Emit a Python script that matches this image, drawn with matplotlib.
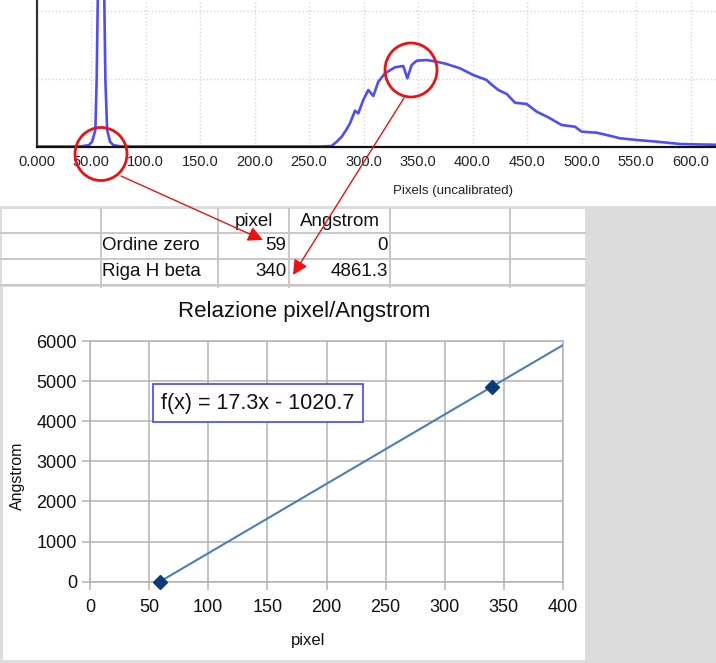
import numpy as np
import matplotlib
matplotlib.use("Agg")
import matplotlib.pyplot as plt
from matplotlib.patches import Rectangle, Ellipse

plt.rcParams['font.family'] = ['Liberation Sans', 'DejaVu Sans']

W, H = 716, 663

# spectrum (pixel position, intensity)
spec_px = [0, 40, 48, 51, 54, 55.2, 56.2, 59.2, 62.2, 63.2, 64.8, 67.5, 70.5, 78,
           260, 270.8, 275.4, 280.0, 284.0, 287.6, 292.2, 295.2, 299.8, 304.4, 309.0, 313.6,
           319.7, 328.9, 336.5, 340.2, 344.2, 348.8, 358.0, 367.2, 376.3, 388.5,
           400.7, 413.0, 416.1, 423.7, 431.4, 439.0, 449.7, 458.9, 469.5, 481.8,
           494.0, 500.2, 513.9, 523.1, 535.3, 550.6, 569.0, 590.4, 602.3, 623.4, 650]
spec_int = [0, 0, 20, 70, 243, 978, 2154, 6500, 2154, 978, 243, 70, 20, 0,
            0, 7, 71, 144, 240, 341, 526, 488, 684, 831, 743, 953,
            1076, 1165, 1184, 1003, 1199, 1262, 1272, 1247, 1213, 1150,
            1051, 978, 929, 831, 772, 644, 625, 512, 429, 316,
            291, 218, 203, 169, 121, 96, 71, 37, 32, 26, 15]
spec_ticks = [0, 50, 100, 150, 200, 250, 300, 350, 400, 450, 500, 550, 600]
spec_tick_labels = ["0.000", "50.00", "100.0", "150.0", "200.0", "250.0", "300.0",
                    "350.0", "400.0", "450.0", "500.0", "550.0", "600.0"]

# calibration table
col_names = ["pixel", "Angstrom"]
row_names = ["Ordine zero", "Riga H beta"]
pixel_vals = [59, 340]
angstrom_vals = [0, 4861.3]

cal_xticks = [0, 50, 100, 150, 200, 250, 300, 350, 400]
cal_yticks = [0, 1000, 2000, 3000, 4000, 5000, 6000]


def px_box(l, t, r, b):
    return [l / W, 1 - b / H, (r - l) / W, (b - t) / H]


fig = plt.figure(figsize=(W / 100, H / 100), dpi=100)

# background: spreadsheet area
bg = fig.add_axes([0, 0, 1, 1], zorder=-5)
bg.set_xlim(0, W)
bg.set_ylim(H, 0)
bg.axis("off")
bg.add_patch(Rectangle((0, 206), W, H - 206, color="#dcdcdc", lw=0))
bg.add_patch(Rectangle((2, 209), 582.5, 76, color="white", lw=0))
for xv in [100.5, 218, 288.6, 390, 510]:
    bg.plot([xv, xv], [209, 287], color="#c8c8c8", lw=1.4)
for yv in [233.3, 259.3, 285]:
    bg.plot([0, 584.5], [yv, yv], color="#c8c8c8", lw=1.4)
bg.add_patch(Rectangle((3, 286.5), 581.5, 373, color="white", lw=0))

# table text
row_y = [246, 271.5]
bg.text(254, 222, col_names[0], ha="center", va="center", fontsize=13.5, color="#111")
bg.text(339.5, 222, col_names[1], ha="center", va="center", fontsize=13.5, color="#111")
for i in range(2):
    bg.text(102, row_y[i], row_names[i], ha="left", va="center", fontsize=13.5, color="#111")
    bg.text(286.5, row_y[i], f"{pixel_vals[i]:g}", ha="right", va="center", fontsize=13.5, color="#111")
    bg.text(388, row_y[i], f"{angstrom_vals[i]:g}", ha="right", va="center", fontsize=13.5, color="#111")

# top: spectrum
ax = fig.add_axes(px_box(36.5, 0, 716, 146.5))
ax.plot(spec_px, spec_int, color="#4d4dff", lw=1.9, solid_joinstyle="round")
ax.set_xlim(0, (716 - 36.5) / 1.09)
ax.set_ylim(0, 146.5 / 68 * 1000)
ax.set_xticks(spec_ticks)
ax.set_xticklabels(spec_tick_labels)
ax.set_yticks([1000, 2000])
ax.set_yticklabels([])
ax.tick_params(length=0, labelsize=10.5, pad=6, labelcolor="#222")
ax.grid(True, color="#d6d6d6", ls=":", lw=1)
for s in ["top", "right"]:
    ax.spines[s].set_visible(False)
ax.spines["left"].set_color("#333")
ax.spines["left"].set_linewidth(1.6)
ax.spines["bottom"].set_color("#111")
ax.spines["bottom"].set_linewidth(1.6)
fig.text(453 / W, 1 - 191 / H, "Pixels (uncalibrated)", ha="center", va="center",
         fontsize=9.5, color="#222")

# bottom: calibration chart
axc = fig.add_axes(px_box(90, 341, 563, 581.7))
coef = np.polyfit(pixel_vals, angstrom_vals, 1)
fit_x = [pixel_vals[0], cal_xticks[-1]]
axc.plot(fit_x, np.polyval(coef, fit_x), color="#4a7ebb", lw=1.5, zorder=3)
axc.plot(pixel_vals, angstrom_vals, "D", ms=7, color="#0b3c7a", clip_on=False, zorder=5)
axc.set_xlim(0, 400)
axc.set_ylim(0, 6000)
axc.set_xticks(cal_xticks)
axc.set_yticks(cal_yticks)
axc.grid(True, color="#b3b3b3", lw=1.1)
axc.set_axisbelow(True)
for s in axc.spines.values():
    s.set_color("#b3b3b3")
    s.set_linewidth(1.1)
axc.tick_params(length=5.8, width=1.1, color="#b3b3b3", labelsize=13, labelcolor="#111")
axc.tick_params(axis="x", pad=7)
axc.tick_params(axis="y", pad=3.6)
eq = f"f(x) = {coef[0]:.1f}x - {abs(coef[1]):.1f}"
axc.text(0.355, 0.741, eq, transform=axc.transAxes, ha="center", va="center", fontsize=15.5,
         color="#111", bbox=dict(boxstyle="square,pad=0.4", fc="white", ec="#4444ff", lw=1.2))
fig.text(304.5 / W, 1 - 311 / H, "Relazione pixel/Angstrom", ha="center", va="center",
         fontsize=16, color="#111")
fig.text(308 / W, 1 - 640 / H, "pixel", ha="center", va="center", fontsize=12, color="#111")
fig.text(17.5 / W, 1 - 476 / H, "Angstrom", ha="center", va="center", rotation=90,
         fontsize=11.5, color="#111")

# red annotations
ov = fig.add_axes([0, 0, 1, 1], zorder=20)
ov.set_xlim(0, W)
ov.set_ylim(H, 0)
ov.axis("off")
ov.patch.set_alpha(0)
ov.add_patch(Ellipse((101, 154), 52, 53, fill=False, ec="#ee1111", lw=2))
ov.add_patch(Ellipse((411, 70), 52, 54, fill=False, ec="#ee1111", lw=2))
ov.annotate("", xy=(263, 240), xytext=(121, 176),
            arrowprops=dict(arrowstyle="-|>,head_length=0.9,head_width=0.45", color="#ee1111", lw=1, shrinkA=0, shrinkB=0))
ov.annotate("", xy=(293, 275), xytext=(404, 98),
            arrowprops=dict(arrowstyle="-|>,head_length=0.9,head_width=0.45", color="#ee1111", lw=1, shrinkA=0, shrinkB=0))

fig.savefig("out.png", dpi=100)
